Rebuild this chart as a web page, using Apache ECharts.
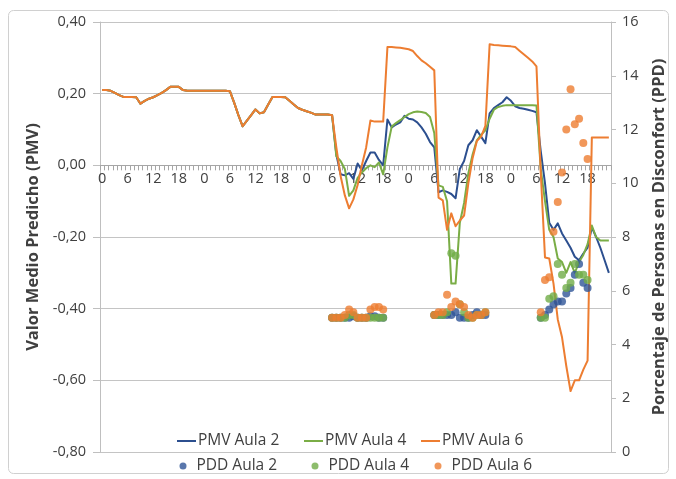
<!DOCTYPE html>
<html>
<head>
<meta charset="utf-8">
<script src="https://cdn.jsdelivr.net/npm/echarts@6/dist/echarts.min.js"></script>
<style>
  html, body { margin: 0; padding: 0; background: #ffffff; }
  #chart { width: 676px; height: 479px; }
</style>
</head>
<body>
<div id="chart"></div>
<script>
// ---- categories: hours of the day over 5 days (hourly records) ----
const hours = [];
for (let d = 0; d < 5; d++) { for (let h = 0; h < 24; h++) { hours.push(String(h)); } }

// ---- PMV (left axis) hourly values, h = 0..119 ----
const pmvAula2 = [
  0.21,0.21,0.208,0.202,0.196,0.191,0.191,0.191,0.19,0.172,0.18,0.186,0.19,0.196,0.202,0.21,0.219,0.219,0.219,0.21,0.208,0.208,0.208,0.208,
  0.208,0.208,0.208,0.208,0.208,0.208,0.207,0.175,0.14,0.109,0.125,0.14,0.156,0.145,0.148,0.17,0.191,0.191,0.191,0.19,0.18,0.17,0.16,0.155,
  0.151,0.147,0.142,0.142,0.142,0.142,0.14,0.03,-0.025,-0.028,-0.022,-0.038,0.005,-0.014,0.012,0.036,0.036,0.015,0.0,0.128,0.106,0.114,0.12,0.138,
  0.13,0.128,0.12,0.106,0.088,0.065,0.05,-0.075,-0.07,-0.074,-0.08,-0.092,-0.01,0.012,0.056,0.07,0.098,0.08,0.062,0.145,0.16,0.168,0.176,0.19,
  0.18,0.165,0.16,0.158,0.155,0.152,0.148,0.04,-0.05,-0.16,-0.18,-0.162,-0.19,-0.21,-0.23,-0.255,-0.265,-0.246,-0.23,-0.173,-0.2,-0.23,-0.265,-0.3
];
const pmvAula4 = [
  0.21,0.21,0.208,0.202,0.196,0.191,0.191,0.191,0.19,0.172,0.18,0.186,0.19,0.196,0.202,0.21,0.219,0.219,0.219,0.21,0.208,0.208,0.208,0.208,
  0.208,0.208,0.208,0.208,0.208,0.208,0.207,0.175,0.14,0.109,0.125,0.14,0.156,0.145,0.148,0.17,0.191,0.191,0.191,0.19,0.18,0.17,0.16,0.155,
  0.151,0.147,0.142,0.142,0.142,0.142,0.14,0.025,0.012,-0.01,-0.085,-0.07,-0.035,-0.02,-0.008,0.0,-0.005,0.008,-0.025,0.05,0.108,0.118,0.126,0.135,
  0.143,0.148,0.15,0.149,0.146,0.135,0.09,-0.056,-0.06,-0.1,-0.33,-0.33,-0.16,-0.105,-0.022,0.03,0.07,0.085,0.098,0.13,0.155,0.163,0.166,0.168,
  0.168,0.168,0.168,0.168,0.168,0.168,0.167,-0.01,-0.1,-0.18,-0.2,-0.26,-0.27,-0.3,-0.27,-0.3,-0.27,-0.25,-0.22,-0.168,-0.2,-0.21,-0.21,-0.21
];
const pmvAula6 = [
  0.21,0.21,0.208,0.202,0.196,0.191,0.191,0.191,0.19,0.172,0.18,0.186,0.19,0.196,0.202,0.21,0.219,0.219,0.219,0.21,0.208,0.208,0.208,0.208,
  0.208,0.208,0.208,0.208,0.208,0.208,0.207,0.175,0.14,0.109,0.125,0.14,0.156,0.145,0.148,0.17,0.191,0.191,0.191,0.19,0.18,0.17,0.16,0.155,
  0.151,0.147,0.142,0.142,0.142,0.142,0.14,0.05,-0.03,-0.084,-0.12,-0.095,-0.055,0.0,0.05,0.125,0.122,0.122,0.122,0.33,0.33,0.329,0.328,0.326,
  0.324,0.319,0.305,0.293,0.285,0.275,0.265,-0.09,-0.098,-0.18,-0.134,-0.17,-0.154,-0.14,-0.05,0.02,0.068,0.08,0.11,0.338,0.336,0.335,0.334,0.333,
  0.332,0.33,0.32,0.31,0.3,0.29,0.276,-0.02,-0.257,-0.26,-0.33,-0.43,-0.48,-0.56,-0.63,-0.6,-0.6,-0.57,-0.545,0.078,0.078,0.078,0.078,0.078
];

// ---- PPD (right axis): hours with occupancy and values ----
const pddHours = [54,55,56,57,58,59,60,61,62,63,64,65,66,
                  78,79,80,81,82,83,84,85,86,87,88,89,90,
                  103,104,105,106,107,108,109,110,111,112,113,114];
const pddAula2 = [5.0,5.0,5.0,5.0,5.0,5.05,5.0,5.0,5.0,5.05,5.05,5.0,5.0,
                  5.1,5.1,5.1,5.1,5.1,5.2,5.0,5.0,5.0,5.1,5.2,5.1,5.1,
                  5.0,5.1,5.3,5.5,5.6,5.6,5.9,6.1,6.6,7.0,6.3,6.1];
const pddAula4 = [5.0,5.0,5.0,5.0,5.1,5.1,5.0,5.0,5.0,5.0,5.0,5.0,5.0,
                  5.1,5.1,5.1,5.2,7.4,7.3,5.5,5.2,5.0,5.0,5.1,5.1,5.2,
                  5.0,5.0,5.7,5.8,7.0,6.6,6.1,6.3,7.0,6.6,6.6,6.4];
const pddAula6 = [5.0,5.0,5.0,5.1,5.3,5.2,5.0,5.0,5.0,5.3,5.4,5.4,5.3,
                  5.1,5.2,5.2,5.85,5.4,5.6,5.5,5.4,5.1,5.0,5.1,5.1,5.2,
                  5.2,6.4,6.5,8.2,9.3,10.4,12.0,13.5,12.2,12.4,11.5,10.9];

const seriesNames = ['PMV Aula 2','PMV Aula 4','PMV Aula 6','PDD Aula 2','PDD Aula 4','PDD Aula 6'];
const colors = { blue: '#2c4f8f', green: '#7aad46', orange: '#ed7d31', blueDot: '#2f5597', greenDot: '#70ad47' };

function pairs(vals) { return pddHours.map((h, i) => [h, vals[i]]); }

const FONT = 'Open Sans';
const TXT = '#404040';

const chart = echarts.init(document.getElementById('chart'), null, { renderer: 'canvas' });

function legendItem(name, left, top, icon, w, h, pad) {
  return {
    data: [{ name: name, icon: icon }],
    left: left, top: top, itemWidth: w, itemHeight: h, padding: 0,
    textStyle: { fontFamily: FONT, fontSize: 15.5, color: TXT, padding: pad },
    selectedMode: false
  };
}

const option = {
  animation: false,
  backgroundColor: '#ffffff',
  graphic: [{
    type: 'rect', z: -10, silent: true,
    shape: { x: 8.5, y: 10.5, width: 660, height: 463, r: 5 },
    style: { fill: 'none', stroke: '#d0d0d0', lineWidth: 1 }
  }],
  grid: { left: 100, right: 64, top: 22, bottom: 27, containLabel: false },
  legend: [
    legendItem('PMV Aula 2', 177, 433, 'rect', 19, 2, [0, 0, 0, -3]),
    legendItem('PMV Aula 4', 304, 433, 'rect', 19, 2, [0, 0, 0, -3]),
    legendItem('PMV Aula 6', 421, 433, 'rect', 19, 2, [0, 0, 0, -3]),
    legendItem('PDD Aula 2', 179.5, 458, 'circle', 7, 7, [0, 0, 0, 5]),
    legendItem('PDD Aula 4', 311.5, 458, 'circle', 7, 7, [0, 0, 0, 5]),
    legendItem('PDD Aula 6', 434.5, 458, 'circle', 7, 7, [0, 0, 0, 5])
  ],
  xAxis: {
    type: 'category',
    data: hours,
    boundaryGap: true,
    position: 'bottom',
    offset: 0,
    axisLine: { show: true, onZero: false, lineStyle: { color: '#a6a6a6', width: 1 } },
    axisTick: { show: true, interval: 0, length: 5, lineStyle: { color: '#a6a6a6' } },
    axisLabel: { interval: 5, margin: 6, fontFamily: FONT, fontSize: 14.5, color: TXT },
    splitLine: { show: false }
  },
  yAxis: [
    {
      type: 'value', position: 'left',
      min: -0.8, max: 0.4, interval: 0.2,
      name: 'Valor Medio Predicho (PMV)', nameLocation: 'middle', nameGap: 55, nameRotate: 90,
      nameTextStyle: { fontFamily: FONT, fontSize: 16.5, fontWeight: 'bold', color: TXT },
      axisLine: { show: true, lineStyle: { color: '#bfbfbf' } },
      axisTick: { show: true, length: 7, lineStyle: { color: '#bfbfbf' } },
      axisLabel: { margin: 14, fontFamily: FONT, fontSize: 14.5, color: TXT,
                   formatter: v => v.toFixed(2).replace('.', ',') },
      splitLine: { show: true, lineStyle: { color: '#c4c4c4', width: 1 } }
    },
    {
      type: 'value', position: 'right',
      min: 0, max: 16, interval: 2,
      name: 'Porcentaje de Personas en Disconfort (PPD)', nameLocation: 'middle', nameGap: 40, nameRotate: 90,
      nameTextStyle: { fontFamily: FONT, fontSize: 16.5, fontWeight: 'bold', color: TXT },
      axisLine: { show: true, lineStyle: { color: '#bfbfbf' } },
      axisTick: { show: true, length: 5, lineStyle: { color: '#bfbfbf' } },
      axisLabel: { margin: 11, fontFamily: FONT, fontSize: 14.5, color: TXT },
      splitLine: { show: false }
    }
  ],
  series: [
    { name: seriesNames[0], type: 'line', data: pmvAula2, yAxisIndex: 0, symbol: 'none', z: 2,
      lineStyle: { color: colors.blue, width: 2, join: 'round' }, itemStyle: { color: colors.blue } },
    { name: seriesNames[1], type: 'line', data: pmvAula4, yAxisIndex: 0, symbol: 'none', z: 3,
      lineStyle: { color: colors.green, width: 2, join: 'round' }, itemStyle: { color: colors.green } },
    { name: seriesNames[2], type: 'line', data: pmvAula6, yAxisIndex: 0, symbol: 'none', z: 4,
      lineStyle: { color: colors.orange, width: 2, join: 'round' }, itemStyle: { color: colors.orange } },
    { name: seriesNames[3], type: 'scatter', data: pairs(pddAula2), yAxisIndex: 1, symbol: 'circle', symbolSize: 8, z: 5,
      itemStyle: { color: colors.blueDot } },
    { name: seriesNames[4], type: 'scatter', data: pairs(pddAula4), yAxisIndex: 1, symbol: 'circle', symbolSize: 8, z: 6,
      itemStyle: { color: colors.greenDot } },
    { name: seriesNames[5], type: 'scatter', data: pairs(pddAula6), yAxisIndex: 1, symbol: 'circle', symbolSize: 8, z: 7,
      itemStyle: { color: colors.orange } }
  ]
};
chart.setOption(option);

// Move the category axis (line, ticks and labels) up to PMV = 0, as in the original chart.
const yZero = chart.convertToPixel({ yAxisIndex: 0 }, 0);
const yBottom = chart.convertToPixel({ yAxisIndex: 0 }, -0.8);
chart.setOption({ xAxis: { offset: -(yBottom - yZero) } });
</script>
</body>
</html>
